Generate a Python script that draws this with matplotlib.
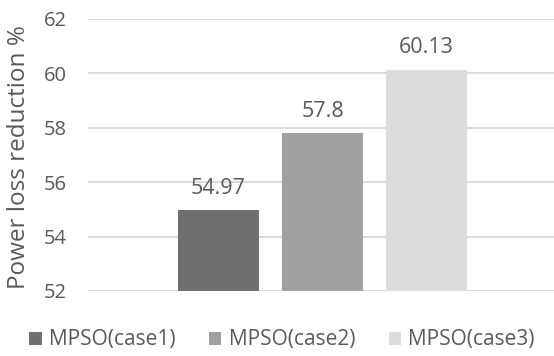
import matplotlib.pyplot as plt

# 데이터
cases = ['MPSO(case1)', 'MPSO(case2)', 'MPSO(case3)']
reduction = [54.97, 57.8, 60.13]
value_labels = ['54.97', '57.8', '60.13']
yticks = [52, 54, 56, 58, 60, 62]

colors = ['#707070', '#a0a0a0', '#dcdcdc']
text_color = '#595959'

plt.rcParams['font.family'] = ['Open Sans', 'DejaVu Sans']

fig = plt.figure(figsize=(5.54, 3.56), dpi=100)
ax = fig.add_axes([88 / 554, 1 - 291 / 356, 466 / 554, 272 / 356])

step = 1.0
width = 0.78
for i, (name, val) in enumerate(zip(cases, reduction)):
    x = (i - 1) * step
    ax.bar(x, val - 52, bottom=52, width=width, color=colors[i], label=name, zorder=3)
    # 막대 위 값 표시
    ax.annotate(value_labels[i], (x, val), xytext=(0, 12), textcoords='offset points',
                ha='center', va='baseline', fontsize=15.5, color=text_color)

ax.set_xlim(-2.255, 2.226)
ax.set_ylim(52, 62)
ax.set_yticks(yticks)
ax.set_xticks([])
ax.grid(axis='y', color='#d9d9d9', linewidth=1.3, zorder=0)
for s in ax.spines.values():
    s.set_visible(False)
ax.tick_params(axis='y', length=0, pad=15, labelsize=14.5, labelcolor=text_color)

# y 축 이름
fig.text(19 / 554, 1 - 157.5 / 356, 'Power loss reduction %', rotation=90,
         ha='center', va='center', fontsize=17.5, color=text_color)

fig.legend(loc='center', bbox_to_anchor=(0.509, 0.045), ncol=3, frameon=False,
           fontsize=15, labelcolor=text_color, handlelength=0.6, handleheight=0.6,
           handletextpad=0.35, columnspacing=1.6)

plt.savefig('out.png', dpi=100)
